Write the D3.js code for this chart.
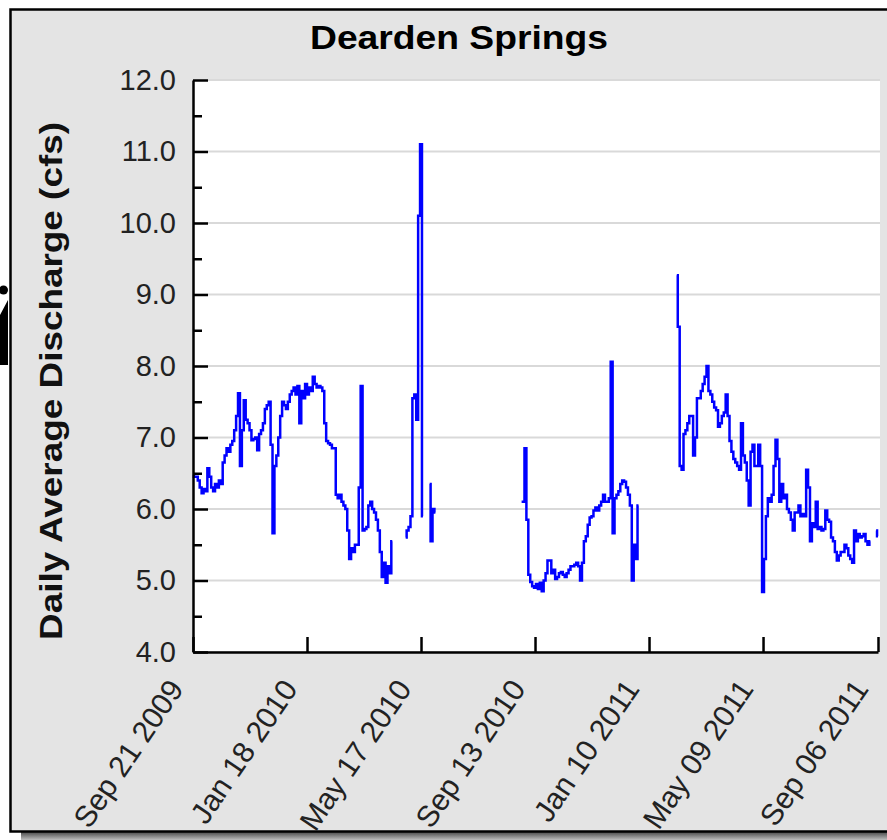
<!DOCTYPE html>
<html><head><meta charset="utf-8">
<script src="https://cdn.jsdelivr.net/npm/d3@7"></script>
<style>
body{margin:0;background:#fff;}
svg{display:block;font-family:"Liberation Sans",Arial,Helvetica,sans-serif;}
</style>
</head><body>
<svg id="chart" width="887" height="840"></svg>
<script>
// ---------- data ----------
const chartTitle = "Dearden Springs";
const yAxisLabel = "Daily Average Discharge (cfs)";
const xTickLabels = ["Sep 21 2009","Jan 18 2010","May 17 2010","Sep 13 2010","Jan 10 2011","May 09 2011","Sep 06 2011"];
const yMajorTicks = [4,5,6,7,8,9,10,11,12];
const yMinorTicks = [4.5,5.5,6.5,7.5,8.5,9.5,10.5,11.5];
const stepDays = 2; // one value every two days

const seg1Start = "2009-09-21";
const seg1Values = [6.48,6.45,6.45,6.4,6.3,6.22,6.28,6.25,6.57,6.45,6.3,6.25,6.35,6.3,6.4,6.35,6.65,6.75,6.85,6.8,
  6.9,6.95,7.1,7.3,7.62,6.6,7.1,7.52,7.25,7.2,7.1,6.96,6.98,7.0,6.82,7.05,7.1,7.2,7.4,7.45,
  7.5,6.9,5.66,6.6,6.75,7.0,7.3,7.5,7.45,7.4,7.5,7.6,7.65,7.7,7.6,7.72,7.2,7.65,7.55,7.75,
  7.6,7.7,7.65,7.85,7.75,7.7,7.72,7.7,7.65,7.2,6.95,6.92,6.9,6.85,6.85,6.2,6.15,6.2,6.1,6.05,
  6.0,5.7,5.3,5.45,5.4,5.5,5.5,6.3,7.72,5.7,5.72,5.75,6.05,6.1,6.0,5.95,5.85,5.7,5.4,5.05,
  5.25,4.97,5.2,5.1,5.55];
const seg2Start = "2010-05-01";
const seg2Values = [5.6,5.7,5.75,5.9,7.55,7.6,7.25,10.1,11.1,5.9];
const seg3Start = "2010-05-26";
const seg3Values = [6.35,5.55,6.0,5.95];
const seg4Start = "2010-08-30";
const seg4Values = [6.1,6.1,6.85,5.85,5.08,4.98,4.92,4.9,4.95,4.88,4.97,4.85,5.0,5.1,5.28,5.28,5.1,5.15,5.02,5.05,
  5.1,5.12,5.08,5.05,5.1,5.15,5.2,5.2,5.22,5.25,5.2,5.0,5.25,5.55,5.62,5.78,5.88,5.9,5.98,6.02,
  5.98,6.05,6.1,6.2,6.1,6.1,6.15,8.06,5.66,6.15,6.2,6.25,6.35,6.4,6.38,6.3,6.2,6.05,5.0,5.5,
  5.3,6.05];
const seg5Start = "2011-02-08";
const seg5Values = [9.27,8.55,6.6,6.55,7.05,7.1,7.2,7.3,7.3,6.75,7.0,7.55,7.55,7.65,7.75,7.85,8.0,7.65,7.6,7.5,
  7.42,7.38,7.15,7.2,7.3,7.35,7.6,7.3,6.95,6.8,6.7,6.65,6.6,6.55,7.2,6.75,6.65,6.4,6.05,6.8,
  6.9,6.6,6.6,6.9,6.6,4.84,5.3,5.9,6.15,6.1,6.2,6.6,6.97,6.7,6.1,6.35,6.15,6.2,6.0,5.95,
  5.85,5.7,5.95,5.95,6.05,5.9,5.93,5.9,6.55,6.3,5.55,5.8,5.75,6.1,5.72,5.75,5.7,5.72,5.98,5.85,
  5.82,5.6,5.55,5.4,5.28,5.35,5.4,5.4,5.5,5.45,5.35,5.3,5.25,5.7,5.55,5.65,5.6,5.62,5.65,5.55,
  5.5,5.55];
const seg6Start = "2011-09-04";
const seg6Values = [5.7,5.62];

// ---------- build ----------
const parseISO = d3.utcParse("%Y-%m-%d");
const parseTick = d3.utcParse("%b %d %Y");
function toSeries(start, values){
  const s = parseISO(start);
  return values.map((v,i)=>({date:d3.utcDay.offset(s, i*stepDays), v}));
}
const segments = [
  toSeries(seg1Start, seg1Values), toSeries(seg2Start, seg2Values), toSeries(seg3Start, seg3Values),
  toSeries(seg4Start, seg4Values), toSeries(seg5Start, seg5Values), toSeries(seg6Start, seg6Values)
];
const xTickDates = xTickLabels.map(parseTick);

const svg = d3.select("#chart");
const plot = {left:193, right:878, top:80, bottom:652};

// left artifacts outside the frame
svg.append("circle").attr("cx",3.5).attr("cy",290).attr("r",4.5).attr("fill","#000");
svg.append("polygon").attr("points","0,315 8,300 8,365 0,365").attr("fill","#000");

// shadow & frame
const grad = svg.append("defs").append("linearGradient").attr("id","sh").attr("x1",0).attr("y1",0).attr("x2",0).attr("y2",1);
grad.append("stop").attr("offset","0%").attr("stop-color","#4a4a4a");
grad.append("stop").attr("offset","100%").attr("stop-color","#bdbdbd");
svg.append("rect").attr("x",21).attr("y",832).attr("width",880).attr("height",8).attr("fill","url(#sh)");
svg.append("rect").attr("x",10.5).attr("y",9.5).attr("width",900).attr("height",822)
  .attr("fill","#e4e4e4").attr("stroke","#000").attr("stroke-width",2.5);

// plot background
svg.append("rect").attr("x",plot.left).attr("y",plot.top).attr("width",880-plot.left).attr("height",plot.bottom-plot.top).attr("fill","#fff");

const x = d3.scaleUtc().domain([xTickDates[0], xTickDates[xTickDates.length-1]]).range([plot.left, plot.right]);
const y = d3.scaleLinear().domain([4,12]).range([plot.bottom, plot.top]);

// gridlines
svg.append("g").selectAll("line").data(yMajorTicks).join("line")
  .attr("x1",plot.left).attr("x2",880).attr("y1",d=>y(d)).attr("y2",d=>y(d))
  .attr("stroke","#d9d9d9").attr("stroke-width",2);

// data line
const line = d3.line().x(d=>x(d.date)).y(d=>y(d.v)).curve(d3.curveStep);
svg.append("g").selectAll("path").data(segments).join("path")
  .attr("d",line).attr("fill","none").attr("stroke","#0000ff").attr("stroke-width",2.5);

// y axis
const yAxis = d3.axisLeft(y).tickValues(yMajorTicks).tickFormat(d3.format(".1f")).tickSizeInner(-15).tickSizeOuter(0).tickPadding(17);
const gy = svg.append("g").attr("transform",`translate(${plot.left},0)`).call(yAxis);
gy.select(".domain").attr("stroke","#000").attr("stroke-width",2.5);
gy.selectAll(".tick line").attr("stroke","#000").attr("stroke-width",2.5);
gy.selectAll(".tick text").attr("font-size",29).attr("fill","#222").attr("font-family","'Liberation Sans',Arial,sans-serif");
const yMinor = d3.axisLeft(y).tickValues(yMinorTicks).tickFormat("").tickSizeInner(-9).tickSizeOuter(0);
const gym = svg.append("g").attr("transform",`translate(${plot.left},0)`).call(yMinor);
gym.select(".domain").remove();
gym.selectAll(".tick line").attr("stroke","#000").attr("stroke-width",2.5);

// x axis
const xAxis = d3.axisBottom(x).tickValues(xTickDates).tickFormat((d,i)=>xTickLabels[i]).tickSizeInner(-15).tickSizeOuter(0);
const gx = svg.append("g").attr("transform",`translate(0,${plot.bottom})`).call(xAxis);
gx.select(".domain").attr("stroke","#000").attr("stroke-width",2.5);
gx.selectAll(".tick line").attr("stroke","#000").attr("stroke-width",2.5);
gx.selectAll(".tick text")
  .attr("font-size",30).attr("fill","#222").attr("font-family","'Liberation Sans',Arial,sans-serif")
  .attr("text-anchor","end").attr("dy",null).attr("y",null)
  .attr("transform","translate(-9,37) rotate(-56)");

// title
svg.append("text").attr("x",310).attr("y",49).attr("font-size",33).attr("font-weight","bold")
  .attr("textLength",298).attr("lengthAdjust","spacingAndGlyphs").attr("fill","#000").text(chartTitle);

// y label
svg.append("text").attr("transform","translate(62,381) rotate(-90)").attr("text-anchor","middle")
  .attr("font-size",31).attr("font-weight","bold").attr("textLength",518).attr("lengthAdjust","spacingAndGlyphs")
  .attr("fill","#111").text(yAxisLabel);
</script>
</body></html>
